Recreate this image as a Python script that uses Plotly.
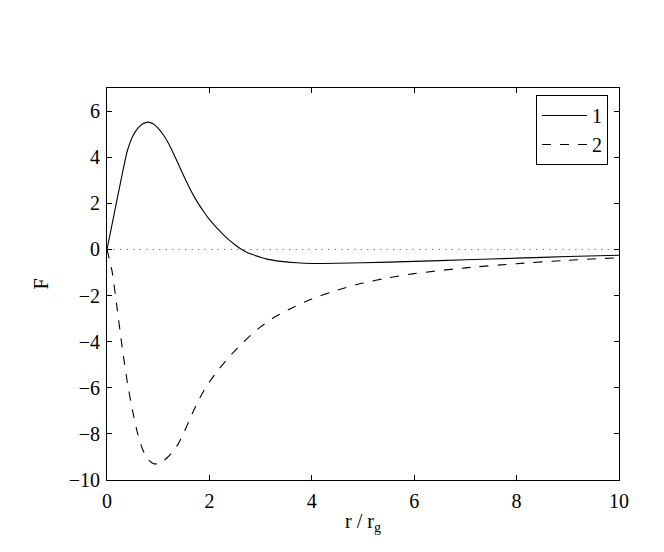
import plotly.graph_objects as go

# Curve 1 (solid)
x1 = [0, 0.1, 0.2, 0.3, 0.4, 0.5, 0.6, 0.7, 0.8, 0.9, 1.0, 1.1, 1.2, 1.3, 1.4, 1.5, 1.6, 1.7, 1.8, 1.9,
      2.0, 2.1, 2.2, 2.3, 2.4, 2.5, 2.6, 2.7, 2.8, 3.0, 3.12, 3.4, 3.7, 4.0, 4.5, 5.0, 6.0, 7.0, 8.0, 9.0, 10.0]
y1 = [0, 1.1, 2.2, 3.3, 4.3, 4.9, 5.25, 5.45, 5.52, 5.45, 5.25, 4.97, 4.6, 4.15, 3.67, 3.18, 2.72, 2.3, 1.93, 1.6,
      1.3, 1.04, 0.8, 0.58, 0.38, 0.2, 0.04, -0.09, -0.19, -0.34, -0.42, -0.52, -0.58, -0.61, -0.6, -0.58, -0.52, -0.45, -0.38, -0.31, -0.25]

# Curve 2 (dashed)
x2 = [0, 0.1, 0.2, 0.3, 0.4, 0.5, 0.6, 0.7, 0.8, 0.9, 1.0, 1.1, 1.2, 1.3, 1.4, 1.5, 1.6, 1.7, 1.8, 1.9,
      2.0, 2.2, 2.4, 2.6, 2.8, 3.0, 3.3, 3.65, 4.0, 4.5, 5.0, 5.5, 6.0, 7.0, 8.0, 9.0, 10.0]
y2 = [0, -0.96, -2.6, -4.3, -5.8, -7.0, -8.0, -8.7, -9.1, -9.28, -9.3, -9.18, -8.98, -8.75, -8.4, -7.95, -7.45, -6.95, -6.5, -6.1,
      -5.75, -5.15, -4.63, -4.16, -3.74, -3.36, -2.9, -2.5, -2.15, -1.76, -1.46, -1.23, -1.05, -0.8, -0.62, -0.47, -0.36]

# zero reference line
x0 = [0, 10]
y0 = [0, 0]

series_names = ["1", "2"]
x_ticks = [0, 2, 4, 6, 8, 10]
y_ticks = [-10, -8, -6, -4, -2, 0, 2, 4, 6]

fig = go.Figure()
fig.add_trace(go.Scatter(x=x0, y=y0, mode="lines", showlegend=False, hoverinfo="skip",
                         line=dict(color="#808080", width=1, dash="1.5px,5px")))
fig.add_trace(go.Scatter(x=x1, y=y1, mode="lines", name=series_names[0],
                         line=dict(color="black", width=1.1, shape="spline", smoothing=0.6)))
fig.add_trace(go.Scatter(x=x2, y=y2, mode="lines", name=series_names[1],
                         line=dict(color="black", width=1.1, dash="dash", shape="spline", smoothing=0.6)))

font = "Liberation Serif, Times New Roman, serif"
fs = 20
axis_common = dict(showgrid=False, zeroline=False, showline=True, linecolor="black", linewidth=1,
                   mirror="ticks", ticks="inside", ticklen=5, tickcolor="black", tickwidth=1,
                   tickfont=dict(family=font, size=fs, color="black"))

fig.update_layout(
    width=664, height=552,
    margin=dict(l=99, r=53, t=80, b=80),
    paper_bgcolor="white", plot_bgcolor="white",
    font=dict(family=font, size=fs, color="black"),
    xaxis=dict(range=[0, 10], tickvals=x_ticks, ticklabelstandoff=3,
               title=dict(text="r / r<sub>g</sub>", font=dict(family=font, size=fs), standoff=2),
               **axis_common),
    yaxis=dict(range=[-10, 7], tickvals=y_ticks, ticklabelstandoff=2,
               title=dict(text="F", font=dict(family=font, size=fs), standoff=14),
               **axis_common),
    legend=dict(x=(600 - 99) / 512, y=(472 - 87) / 392, xanchor="right", yanchor="top",
                bgcolor="white", bordercolor="black", borderwidth=1,
                font=dict(family=font, size=fs), itemwidth=45, tracegroupgap=0),
    showlegend=True,
)

fig.write_html("out.html")
